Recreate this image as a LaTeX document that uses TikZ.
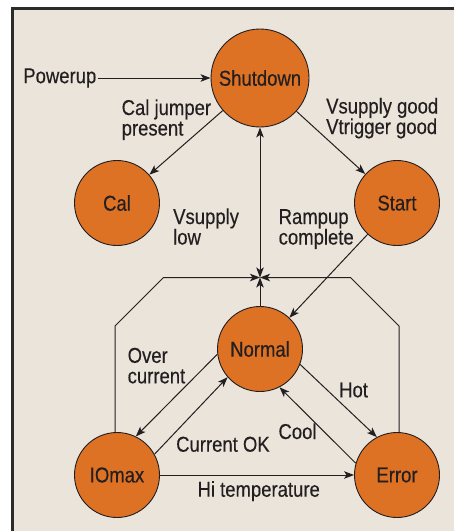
\documentclass[tikz,border=0pt]{standalone}
\usepackage{fontspec}
\setmainfont[FakeStretch=0.86,FakeBold=0.35]{Liberation Sans}
\usetikzlibrary{arrows.meta}
\definecolor{bgpanel}{HTML}{EAE4DB}
\definecolor{orangefill}{HTML}{DD7124}
\definecolor{ink}{HTML}{231F20}
\definecolor{framecol}{HTML}{2B2B2B}
\newcommand\lblfont{\fontsize{21.5}{20.5}\selectfont}
\begin{document}
\begin{tikzpicture}[x=1pt,y=-1pt,
  >={Stealth[length=10pt,width=7.5pt,inset=2.5pt]},
  state/.style={circle, draw=ink, line width=0.9pt, fill=orangefill, inner sep=0pt, minimum size=#1, text=ink, font=\lblfont},
  state/.default=85pt,
  lab/.style={inner sep=0pt, text=ink, font=\lblfont, align=left},
  edge/.style={draw=ink, line width=1pt, ->},
]
\useasboundingbox (0,0) rectangle (454,531);
\fill[white] (0,0) rectangle (454,531);
\fill[bgpanel] (12.5,8.3) rectangle (454,531);
\draw[line width=3pt, framecol] (12.5,531) -- (12.5,8.3) -- (454,8.3);

\node[state=98pt] (shut) at (260,78) {Shutdown};
\node[state] (cal) at (117,203) {Cal};
\node[state] (start) at (397,203) {Start};
\node[state] (norm) at (260,349) {Normal};
\node[state] (iomax) at (117,475) {IOmax};
\node[state] (err) at (397,475) {Error};

\coordinate (j) at (260,277.5);
\coordinate (l1) at (115,326);
\coordinate (l2) at (163.5,277.5);
\coordinate (r1) at (399,326);
\coordinate (r2) at (350.5,277.5);

\node[lab, anchor=east, inner xsep=1pt] (pw) at (97.5,78) {Powerup};

\draw[edge] (pw.east) -- (shut.west);
\draw[edge] (shut) -- (cal);
\draw[edge] (shut) -- (start);
\draw[edge, <->] (shut.south) -- (j);
\draw[edge] (norm.north) -- (j);
\draw[edge] (l1 |- iomax.north) -- (l1) -- (l2) -- (j);
\draw[edge] (r1 |- err.north) -- (r1) -- (r2) -- (j);
\draw[edge] (start) -- (norm);
\draw[edge] (norm.187) -- (iomax.64.7);
\draw[edge] (iomax.29.7) -- (norm.221.3);
\draw[edge] (norm.-21.3) -- (err.118.9);
\draw[edge] (err.164) -- (norm.-63.4);
\draw[edge] (iomax) -- (err);

\node[lab, anchor=base west] (t1) at (121.5,135.5) {Cal jumper\\present};
\node[lab, anchor=base west] (t2) at (326,134) {Vsupply good\\Vtrigger good};
\node[lab, anchor=base west] (t3) at (173,244.5) {Vsupply\\low};
\node[lab, anchor=base west] (t4) at (278.5,244.5) {Rampup\\complete};
\node[lab, anchor=base west] (t5) at (127.5,383.3) {Over\\current};
\node[lab, anchor=base west] (t6) at (339,397.3) {Hot};
\node[lab, anchor=base west] (t7) at (278.3,439) {Cool};
\node[lab, anchor=base west] (t8) at (176,451.7) {Current OK};
\node[lab, anchor=base] (t9) at (258.7,496.7) {Hi temperature};
\end{tikzpicture}
\end{document}
